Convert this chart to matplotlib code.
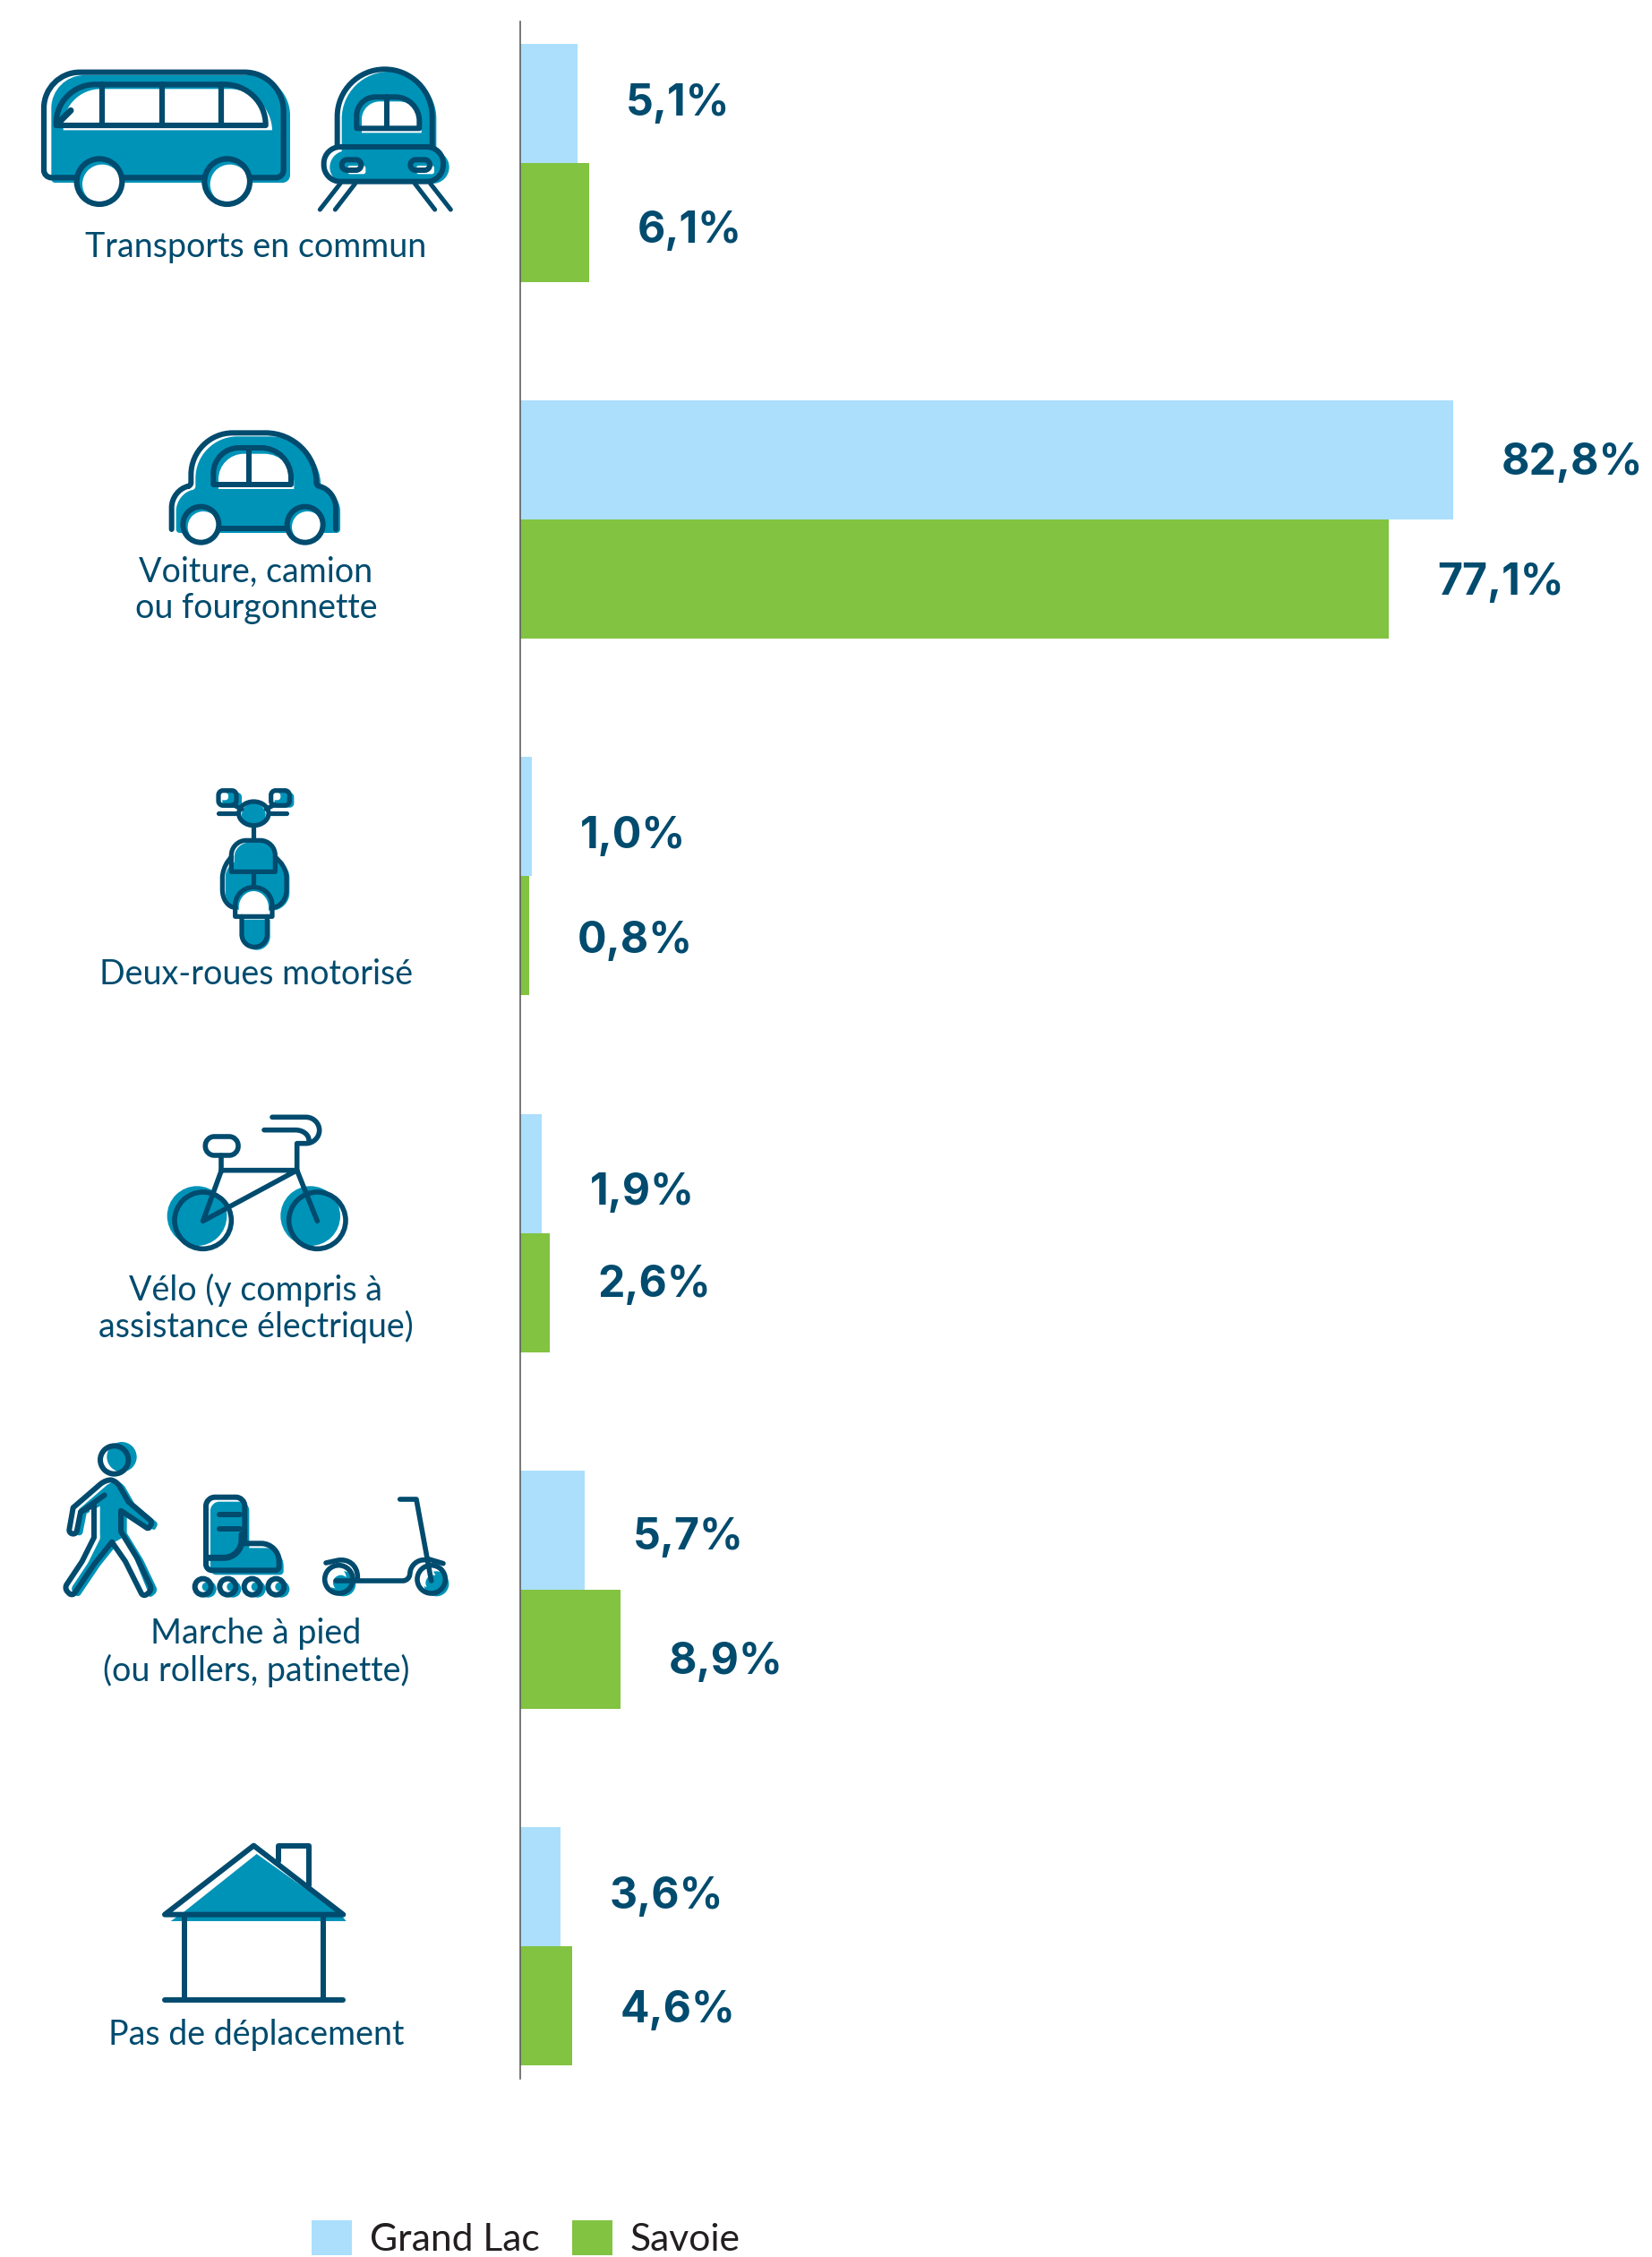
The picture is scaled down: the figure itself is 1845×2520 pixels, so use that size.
import numpy as np
import matplotlib
matplotlib.use("Agg")
import matplotlib.pyplot as plt
from matplotlib.path import Path
from matplotlib.patches import PathPatch

# ---- data -----------------------------------------------------------------
categories = ["Transports en commun", "Voiture, camion\nou fourgonnette", "Deux-roues motorisé",
              "Vélo (y compris à\nassistance électrique)", "Marche à pied\n(ou rollers, patinette)",
              "Pas de déplacement"]
grand_lac = [5.1, 82.8, 1.0, 1.9, 5.7, 3.6]
savoie = [6.1, 77.1, 0.8, 2.6, 8.9, 4.6]
series_names = ["Grand Lac", "Savoie"]

# ---- style ----------------------------------------------------------------
W, H = 1845, 2520
C_LIGHT, C_GREEN, C_DARK, C_ICON, C_LEG = "#ABDFFC", "#82C341", "#004B6E", "#0093B8", "#231F20"
BODY_FONT = ["Lato", "DejaVu Sans"]
VALUE_FONT = ["Inter", "DejaVu Sans"]
PX = 0.72  # points per pixel at dpi 100
X0_PX, SCALE_PX = 581, 12.58
CAT0_PX, STEP_PX, BAR_PX = 182, 398.2, 133
AX_TOP_PX, AX_BOT_PX = 24, 2321
LABEL_DX_PX = 54
label_dy_lac = [-4, -2, 17, 17, 4, 6]
label_dy_sav = [5, -1, 1, -13, 10, 0]
cat_xy_px = [(286, 276), (286, 659), (286, 1088), (286, 1461), (286, 1845), (286, 2272)]

fig = plt.figure(figsize=(W / 100, H / 100), dpi=100, facecolor="white")
ax = fig.add_axes([X0_PX / W, 1 - AX_BOT_PX / H, (W - X0_PX) / W, (AX_BOT_PX - AX_TOP_PX) / H])
ax.set_xlim(0, (W - X0_PX) / SCALE_PX)
ax.set_ylim((AX_BOT_PX - CAT0_PX) / STEP_PX, (AX_TOP_PX - CAT0_PX) / STEP_PX)
ax.patch.set_alpha(0)
for s in ("top", "right", "bottom"):
    ax.spines[s].set_visible(False)
ax.spines["left"].set_color("#5a5a5a")
ax.spines["left"].set_linewidth(1.6 * PX)
ax.spines["left"].set_zorder(5)
ax.set_xticks([])
ax.set_yticks([])

y = np.arange(len(categories))
h = BAR_PX / STEP_PX
b1 = ax.barh(y - h / 2, grand_lac, h, color=C_LIGHT, label=series_names[0], linewidth=0)
b2 = ax.barh(y + h / 2, savoie, h, color=C_GREEN, label=series_names[1], linewidth=0)


def fmt(v):
    return f"{v:.1f}%".replace(".", ",")


for vals, pos, dys in ((grand_lac, y - h / 2, label_dy_lac), (savoie, y + h / 2, label_dy_sav)):
    for v, p, dy in zip(vals, pos, dys):
        ax.annotate(fmt(v), xy=(v, p), xytext=(LABEL_DX_PX * PX, -dy * PX), textcoords="offset points",
                    ha="left", va="center_baseline", fontsize=34.7, fontweight="bold",
                    family=VALUE_FONT, color=C_DARK, annotation_clip=False)

LEG_FS = 30.7
LEG_PX = LEG_FS / PX
fig.legend(handles=[b1, b2], labels=series_names, loc="lower left",
           bbox_to_anchor=(348 / W, 0), bbox_transform=fig.transFigure, ncol=2, frameon=False,
           borderpad=0, borderaxespad=0, handlelength=45 / LEG_PX, handleheight=43 / LEG_PX,
           handletextpad=20 / LEG_PX, columnspacing=36 / LEG_PX,
           prop={"family": BODY_FONT, "size": LEG_FS}, labelcolor=C_LEG)

# ---- overlay in pixels for pictograms and category captions ----------------
ov = fig.add_axes([0, 0, 1, 1], zorder=-1)
ov.set_xlim(0, W)
ov.set_ylim(H, 0)
ov.axis("off")

for name, (cx, cy) in zip(categories, cat_xy_px):
    ov.text(cx, cy, name, ha="center", va="center", multialignment="center", fontsize=27.1,
            fontweight=400, family=BODY_FONT, color=C_DARK, linespacing=1.14)


def rpath(pts, closed=True):
    n = len(pts)
    P = [np.array(p[:2], float) for p in pts]
    R = [p[2] if len(p) > 2 else 0 for p in pts]
    verts, codes = [], []
    for i in range(n):
        v = P[i]
        r = R[i]
        has = (closed or 0 < i < n - 1) and r > 0
        if not has:
            verts.append(v)
            codes.append(Path.MOVETO if not verts[:-1] else Path.LINETO)
            continue
        pv, nx = P[(i - 1) % n], P[(i + 1) % n]
        lp, ln = np.linalg.norm(pv - v), np.linalg.norm(nx - v)
        rp, rn = R[(i - 1) % n], R[(i + 1) % n]
        r1 = min(r, max(lp - rp, lp * 0.5) if rp > 0 else lp * 0.98)
        r2 = min(r, max(ln - rn, ln * 0.5) if rn > 0 else ln * 0.98)
        a = v + (pv - v) / lp * r1
        b = v + (nx - v) / ln * r2
        verts.append(a)
        codes.append(Path.MOVETO if not verts[:-1] else Path.LINETO)
        verts += [a + (v - a) * 0.55, b + (v - b) * 0.55, b]
        codes += [Path.CURVE4] * 3
    if closed:
        verts.append(verts[0])
        codes.append(Path.CLOSEPOLY)
    return Path(np.array(verts), codes)


class Icon:
    def __init__(self, ox, oy, lw=5.6):
        self.ox, self.oy, self.lw = ox, oy, lw

    def m(self, pts):
        out = []
        for p in pts:
            q = (self.ox + p[0] / 3, self.oy + p[1] / 3)
            out.append(q + ((p[2] / 3,) if len(p) > 2 else ()))
        return out

    def fill(self, pts, c=C_ICON):
        ov.add_patch(PathPatch(rpath(self.m(pts)), fc=c, ec="none", lw=0))

    def white(self, pts):
        self.fill(pts, "white")

    def line(self, pts, closed=False, lw=None):
        ov.add_patch(PathPatch(rpath(self.m(pts), closed), fill=False, ec=C_DARK,
                               lw=(lw or self.lw) * PX, capstyle="round", joinstyle="round"))

    def circ_path(self, cx, cy, rx, ry=None):
        ry = rx if ry is None else ry
        return [(cx - rx, cy - ry, min(rx, ry) * 2), (cx + rx, cy - ry, min(rx, ry) * 2),
                (cx + rx, cy + ry, min(rx, ry) * 2), (cx - rx, cy + ry, min(rx, ry) * 2)]

    def disc(self, cx, cy, r, c=C_ICON):
        t = Path.unit_circle()
        x = self.ox + cx / 3
        y_ = self.oy + cy / 3
        ov.add_patch(PathPatch(Path(t.vertices * (r / 3) + [x, y_], t.codes), fc=c, ec="none", lw=0))

    def ring(self, cx, cy, r, lw=None):
        t = Path.unit_circle()
        x = self.ox + cx / 3
        y_ = self.oy + cy / 3
        ov.add_patch(PathPatch(Path(t.vertices * (r / 3) + [x, y_], t.codes), fill=False, ec=C_DARK,
                               lw=(lw or self.lw) * PX))


# bus
i = Icon(30, 60, 6.2)
i.fill([(82, 432, 12), (82, 72, 110), (882, 72, 135), (882, 432, 25)])
i.white([(122, 256), (122, 118, 125), (815, 118, 135), (822, 256)])
i.line([(57, 415, 25), (57, 62, 120), (860, 62, 130), (860, 415, 25)], True)
i.line([(98, 240), (98, 103, 130), (800, 103, 137), (800, 240)], True)
i.line([(105, 232), (147, 190)], lw=7)
for vx in (253, 452, 650):
    i.line([(vx, 103), (vx, 240)])
for wx in (243, 671):
    i.disc(wx, 428, 72, "white")
    i.disc(wx, 428, 70)
    i.disc(wx + 9, 437, 66, "white")
    i.ring(wx, 428, 76)

# tram
i = Icon(340, 60, 6)
i.fill([(125, 330), (125, 60, 158), (442, 60, 158), (442, 330)])
i.fill([(85, 325, 55), (485, 325, 55), (485, 435, 55), (85, 435, 55)])
i.white([(192, 265), (192, 160, 60), (392, 160, 75), (392, 265)])
i.line([(110, 312), (110, 52, 158), (428, 52, 158), (428, 312)])
i.line([(65, 312, 55), (465, 312, 55), (465, 428, 55), (65, 428, 55)], True)
i.line([(175, 250), (175, 145, 62), (385, 145, 80), (385, 250)], True)
i.line([(275, 145), (275, 245)])
for lx in (125, 355):
    i.white([(lx + 20, 375, 8), (lx + 80, 375, 8), (lx + 80, 403, 8), (lx + 20, 403, 8)])
    i.line([(lx, 355, 17), (lx + 65, 355, 17), (lx + 65, 390, 17), (lx, 390, 17)], True)
for a_, b_ in (((120, 435), (52, 522)), ((170, 435), (103, 522)), ((370, 435), (437, 522)), ((422, 435), (490, 522))):
    i.line([a_, b_], lw=5)

# car
i = Icon(170, 465, 6)
car = [(65, 378, 12), (65, 245, 60), (130, 232, 10), (130, 55, 140), (550, 55, 170), (550, 232, 10),
       (615, 245, 60), (615, 378, 12)]
i.fill([(p[0] + 15, p[1] + 12) + tuple(p[2:]) for p in car])
i.white([(222, 243), (222, 125, 85), (475, 125, 100), (475, 243)])
i.line(car[:])
i.line([(225, 375), (445, 375)])
i.line([(205, 228), (205, 105, 85), (465, 105, 100), (465, 228)], True)
i.line([(325, 105), (325, 228)])
for wx in (163, 512):
    i.disc(wx, 362, 60)
    i.disc(wx + 8, 370, 52, "white")
    i.ring(wx, 362, 60)

# motor scooter
i = Icon(220, 870, 5.2)
i.fill([(95, 270, 60), (310, 270, 60), (310, 440, 60), (95, 440, 60)])
i.fill([(155, 470), (245, 470), (245, 572, 45), (155, 572, 45)])
i.fill([(125, 212, 50), (268, 212, 50), (268, 320), (125, 320)])
i.disc(190, 120, 40)
for lx in (85, 260):
    i.fill([(lx, 45, 14), (lx + 65, 45, 14), (lx + 65, 95, 14), (lx, 95, 14)])
    i.white([(lx - 8, 45, 10), (lx + 20, 45, 10), (lx + 20, 70, 10), (lx - 8, 70, 10)])
i.line([(72, 38, 15), (132, 38, 15), (132, 88, 15), (72, 88, 15)], True)
i.line([(248, 38, 15), (310, 38, 15), (310, 88, 15), (248, 88, 15)], True)
i.line([(72, 113), (135, 113)])
i.line([(245, 113), (300, 113)])
i.line([(120, 85), (150, 100)])
i.line([(260, 85), (232, 100)])
i.line(i.circ_path(190, 115, 50, 40), True)
i.line([(190, 155), (190, 200)])
i.line([(115, 260), (85, 300, 30), (85, 430, 60), (130, 430)])
i.line([(262, 260), (300, 300, 30), (300, 430, 60), (250, 430)])
i.line([(115, 310), (115, 205, 50), (262, 205, 50), (262, 310)], True)
i.line([(190, 310), (190, 360)])
i.white([(140, 450), (140, 375, 55), (240, 375, 55), (240, 450)])
i.line([(128, 460), (128, 362, 60), (252, 362, 60), (252, 460)], True)
i.line([(150, 460), (150, 562, 42), (235, 562, 42), (235, 460)])

# bicycle
i = Icon(170, 1235, 5.6)
i.disc(150, 368, 100)
i.disc(530, 368, 100)
i.ring(170, 383, 95)
i.ring(553, 383, 95)
i.line([(178, 102, 30), (288, 102, 30), (288, 165, 30), (178, 165, 30)], True)
i.line([(232, 165), (232, 215)])
i.line([(232, 215), (170, 385), (485, 215), (232, 215)])
i.line([(485, 215), (553, 385)])
i.line([(485, 215), (485, 125), (560, 125, 45), (560, 37, 45), (402, 37)])
i.line([(375, 80), (525, 80, 45), (525, 115)])

# walker
i = Icon(60, 1600, 6)
i.disc(228, 80, 50)
walker = [(65, 250), (175, 155, 25), (210, 160, 20), (250, 230), (330, 298, 8), (318, 322, 8), (225, 260),
          (225, 330), (280, 420), (330, 525, 15), (300, 550, 15), (240, 430), (195, 365), (135, 440), (62, 548, 15),
          (35, 520, 15), (95, 430), (135, 350), (135, 240), (90, 265), (75, 340, 12), (50, 335, 12)]
i.fill([(p[0] + 20, p[1] + 5) + tuple(p[2:]) for p in walker])
i.white([(140, 245), (155, 350), (130, 355), (60, 515), (45, 510), (120, 360), (120, 250)])
i.white([(240, 345), (205, 365), (290, 535), (315, 530)])
i.line(walker, True)
i.line([(90, 265), (170, 208)])
i.ring(203, 90, 47)

# skate
boot = [(510, 215, 30), (640, 215, 30), (640, 370), (755, 370, 60), (755, 460, 12), (510, 460, 20)]
i.fill([(p[0] + 15, p[1] + 15) + tuple(p[2:]) for p in boot])
i.line(boot, True)
i.line([(520, 418), (630, 418, 60), (630, 340)], lw=7)
i.line([(555, 272), (625, 272)])
i.line([(555, 320), (625, 320)])
for wx in (500, 583, 665, 745):
    i.disc(wx + 17, 523, 28)
    i.disc(wx, 515, 24, "white")
    i.disc(wx + 12, 515, 15)
    i.ring(wx, 515, 27)

# kick scooter
i = Icon(340, 1650, 5.6)
i.disc(130, 355, 42)
i.disc(442, 355, 42)
i.disc(105, 335, 35, "white")
i.disc(410, 335, 30, "white")
i.disc(122, 352, 26)
i.disc(432, 352, 26)
i.ring(115, 340, 47)
i.ring(425, 340, 47)
i.line([(320, 72), (375, 72), (425, 345)])
i.line([(105, 345), (350, 345, 20), (360, 275, 40), (415, 275)])
i.line([(72, 285), (178, 262, 70), (178, 340)])
i.line([(415, 272), (465, 287)])

# house
i = Icon(170, 2040, 6)
i.fill([(105, 285), (350, 90), (625, 285), (650, 315), (62, 315)])
i.line([(423, 115), (423, 62), (525, 62), (525, 195)])
i.line([(42, 293), (340, 62), (640, 293)], True)
i.line([(108, 293), (108, 580)])
i.line([(572, 293), (572, 580)])
i.line([(42, 580), (640, 580)])

fig.savefig("out.png", dpi=100)
